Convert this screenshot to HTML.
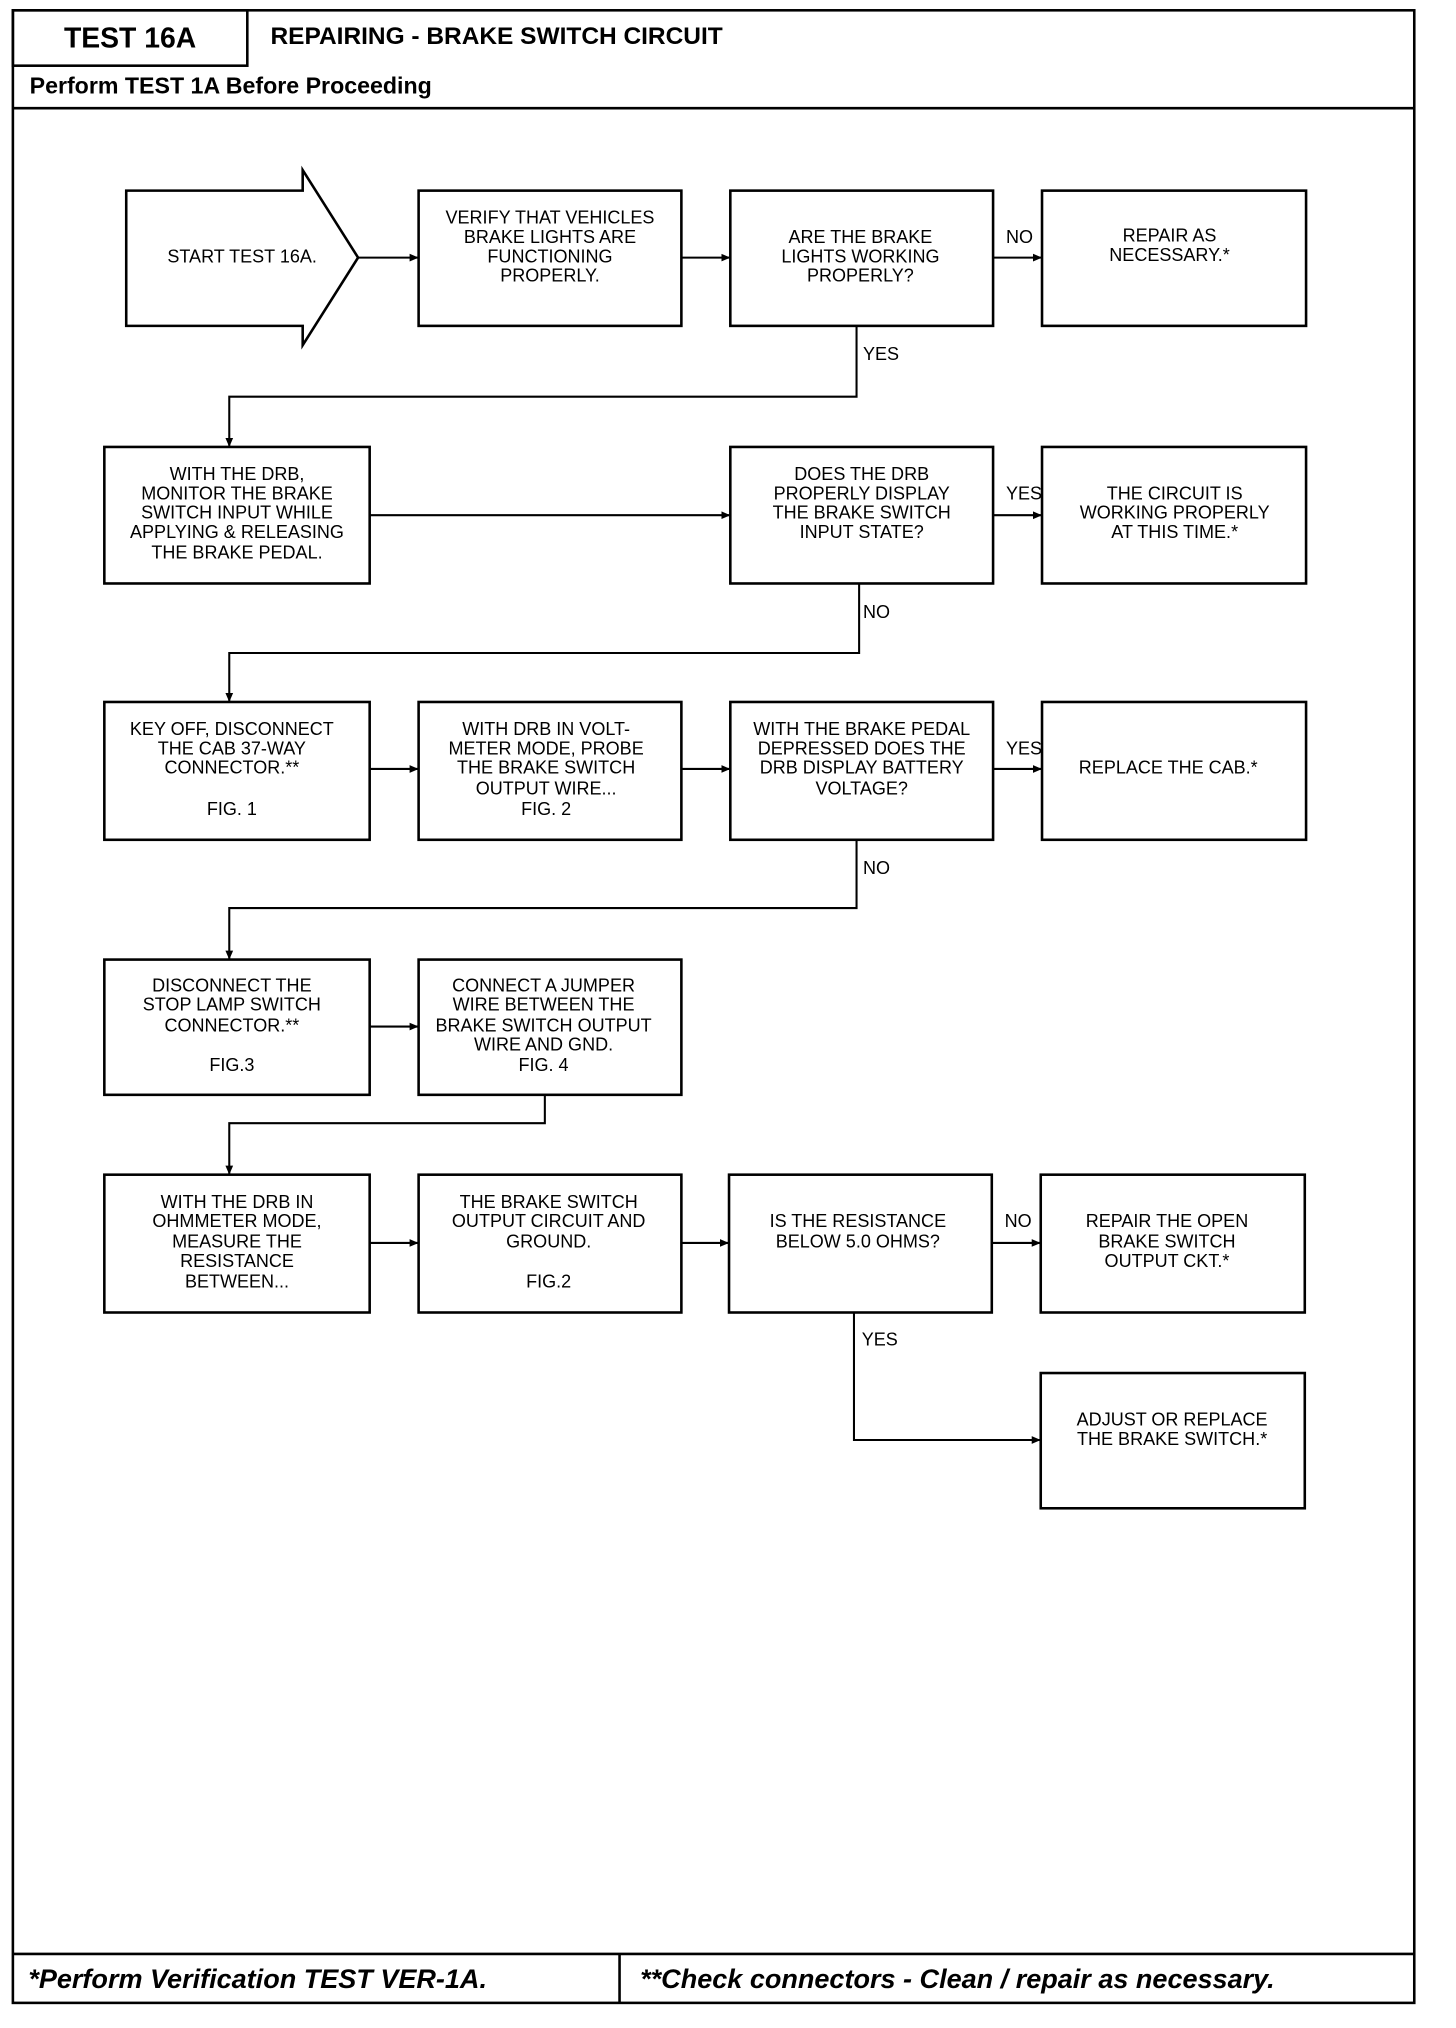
<!DOCTYPE html>
<html><head><meta charset="utf-8"><style>
html,body{margin:0;padding:0;background:#fff;}
svg{display:block;}
.t{font-family:"Liberation Sans Narrow","Liberation Sans",sans-serif;font-size:14px;fill:#000;text-anchor:middle;dominant-baseline:middle;}
.l{text-anchor:start;}
.b{fill:none;stroke:#000;stroke-width:2;}
.c{fill:none;stroke:#000;stroke-width:1.6;}
.h{font-family:"Liberation Sans",sans-serif;font-weight:bold;fill:#000;dominant-baseline:middle;}
</style></head><body>
<svg width="1456" height="2028" viewBox="0 0 1130.4 1574.5" preserveAspectRatio="none" xmlns="http://www.w3.org/2000/svg">
<defs><marker id="a" markerWidth="8" markerHeight="8" refX="7" refY="4" orient="auto" markerUnits="userSpaceOnUse"><path d="M0,1 L7,4 L0,7 Z" fill="#000"/></marker></defs>
<!-- frame -->
<rect x="10" y="8" width="1088" height="1547" class="b"/>
<rect x="10" y="8" width="182" height="43" class="b"/>
<line x1="10" y1="51" x2="1098" y2="51" stroke="#000" stroke-width="1" opacity="0"/>
<line x1="10" y1="84" x2="1098" y2="84" class="b"/>
<line x1="10" y1="1517" x2="1098" y2="1517" class="b"/>
<line x1="481" y1="1517" x2="481" y2="1555" class="b"/>
<text class="h" x="101" y="31" font-size="22" text-anchor="middle">TEST 16A</text>
<text class="h" x="210" y="29" font-size="19">REPAIRING - BRAKE SWITCH CIRCUIT</text>
<text class="h" x="23" y="68" font-size="18">Perform TEST 1A Before Proceeding</text>
<text class="h" x="22" y="1538" font-size="21" font-style="italic">*Perform Verification TEST VER-1A.</text>
<text class="h" x="497" y="1538" font-size="21" font-style="italic">**Check connectors - Clean / repair as necessary.</text>

<!-- row1 -->
<path d="M98,148 L235,148 L235,132 L278,200 L235,268 L235,253 L98,253 Z" class="b"/>
<rect x="325" y="148" width="204" height="105" class="b"/>
<rect x="567" y="148" width="204" height="105" class="b"/>
<rect x="809" y="148" width="205" height="105" class="b"/>
<line x1="278" y1="200" x2="325" y2="200" class="c" marker-end="url(#a)"/>
<line x1="529" y1="200" x2="567" y2="200" class="c" marker-end="url(#a)"/>
<line x1="771" y1="200" x2="809" y2="200" class="c" marker-end="url(#a)"/>
<polyline points="665,253 665,308 178,308 178,347" class="c" marker-end="url(#a)"/>
<text class="t" x="188" y="200">START TEST 16A.</text>
<text class="t" x="427" y="170">VERIFY THAT VEHICLES</text>
<text class="t" x="427" y="185">BRAKE LIGHTS ARE</text>
<text class="t" x="427" y="200">FUNCTIONING</text>
<text class="t" x="427" y="215">PROPERLY.</text>
<text class="t" x="668" y="185">ARE THE BRAKE</text>
<text class="t" x="668" y="200">LIGHTS WORKING</text>
<text class="t" x="668" y="215">PROPERLY?</text>
<text class="t l" x="781" y="185">NO</text>
<text class="t" x="908" y="184">REPAIR AS</text>
<text class="t" x="908" y="199">NECESSARY.*</text>
<text class="t l" x="670" y="276">YES</text>

<!-- row2 -->
<rect x="81" y="347" width="206" height="106" class="b"/>
<rect x="567" y="347" width="204" height="106" class="b"/>
<rect x="809" y="347" width="205" height="106" class="b"/>
<line x1="287" y1="400" x2="567" y2="400" class="c" marker-end="url(#a)"/>
<line x1="771" y1="400" x2="809" y2="400" class="c" marker-end="url(#a)"/>
<polyline points="667,453 667,507 178,507 178,545" class="c" marker-end="url(#a)"/>
<text class="t" x="184" y="369">WITH THE DRB,</text>
<text class="t" x="184" y="384">MONITOR THE BRAKE</text>
<text class="t" x="184" y="399">SWITCH INPUT WHILE</text>
<text class="t" x="184" y="414">APPLYING &amp; RELEASING</text>
<text class="t" x="184" y="430">THE BRAKE PEDAL.</text>
<text class="t" x="669" y="369">DOES THE DRB</text>
<text class="t" x="669" y="384">PROPERLY DISPLAY</text>
<text class="t" x="669" y="399">THE BRAKE SWITCH</text>
<text class="t" x="669" y="414">INPUT STATE?</text>
<text class="t l" x="781" y="384">YES</text>
<text class="t" x="912" y="384">THE CIRCUIT IS</text>
<text class="t" x="912" y="399">WORKING PROPERLY</text>
<text class="t" x="912" y="414">AT THIS TIME.*</text>
<text class="t l" x="670" y="476">NO</text>

<!-- row3 -->
<rect x="81" y="545" width="206" height="107" class="b"/>
<rect x="325" y="545" width="204" height="107" class="b"/>
<rect x="567" y="545" width="204" height="107" class="b"/>
<rect x="809" y="545" width="205" height="107" class="b"/>
<line x1="287" y1="597" x2="325" y2="597" class="c" marker-end="url(#a)"/>
<line x1="529" y1="597" x2="567" y2="597" class="c" marker-end="url(#a)"/>
<line x1="771" y1="597" x2="809" y2="597" class="c" marker-end="url(#a)"/>
<polyline points="665,652 665,705 178,705 178,745" class="c" marker-end="url(#a)"/>
<text class="t" x="180" y="567">KEY OFF, DISCONNECT</text>
<text class="t" x="180" y="582">THE CAB 37-WAY</text>
<text class="t" x="180" y="597">CONNECTOR.**</text>
<text class="t" x="180" y="629">FIG. 1</text>
<text class="t" x="424" y="567">WITH DRB IN VOLT-</text>
<text class="t" x="424" y="582">METER MODE, PROBE</text>
<text class="t" x="424" y="597">THE BRAKE SWITCH</text>
<text class="t" x="424" y="613">OUTPUT WIRE...</text>
<text class="t" x="424" y="629">FIG. 2</text>
<text class="t" x="669" y="567">WITH THE BRAKE PEDAL</text>
<text class="t" x="669" y="582">DEPRESSED DOES THE</text>
<text class="t" x="669" y="597">DRB DISPLAY BATTERY</text>
<text class="t" x="669" y="613">VOLTAGE?</text>
<text class="t l" x="781" y="582">YES</text>
<text class="t" x="907" y="597">REPLACE THE CAB.*</text>
<text class="t l" x="670" y="675">NO</text>

<!-- row4 -->
<rect x="81" y="745" width="206" height="105" class="b"/>
<rect x="325" y="745" width="204" height="105" class="b"/>
<line x1="287" y1="797" x2="325" y2="797" class="c" marker-end="url(#a)"/>
<polyline points="423,850 423,872 178,872 178,912" class="c" marker-end="url(#a)"/>
<text class="t" x="180" y="766">DISCONNECT THE</text>
<text class="t" x="180" y="781">STOP LAMP SWITCH</text>
<text class="t" x="180" y="797">CONNECTOR.**</text>
<text class="t" x="180" y="828">FIG.3</text>
<text class="t" x="422" y="766">CONNECT A JUMPER</text>
<text class="t" x="422" y="781">WIRE BETWEEN THE</text>
<text class="t" x="422" y="797">BRAKE SWITCH OUTPUT</text>
<text class="t" x="422" y="812">WIRE AND GND.</text>
<text class="t" x="422" y="828">FIG. 4</text>

<!-- row5 -->
<rect x="81" y="912" width="206" height="107" class="b"/>
<rect x="325" y="912" width="204" height="107" class="b"/>
<rect x="566" y="912" width="204" height="107" class="b"/>
<rect x="808" y="912" width="205" height="107" class="b"/>
<rect x="808" y="1066" width="205" height="105" class="b"/>
<line x1="287" y1="965" x2="325" y2="965" class="c" marker-end="url(#a)"/>
<line x1="529" y1="965" x2="566" y2="965" class="c" marker-end="url(#a)"/>
<line x1="770" y1="965" x2="808" y2="965" class="c" marker-end="url(#a)"/>
<polyline points="663,1019 663,1118 808,1118" class="c" marker-end="url(#a)"/>
<text class="t" x="184" y="934">WITH THE DRB IN</text>
<text class="t" x="184" y="949">OHMMETER MODE,</text>
<text class="t" x="184" y="965">MEASURE THE</text>
<text class="t" x="184" y="980">RESISTANCE</text>
<text class="t" x="184" y="996">BETWEEN...</text>
<text class="t" x="426" y="934">THE BRAKE SWITCH</text>
<text class="t" x="426" y="949">OUTPUT CIRCUIT AND</text>
<text class="t" x="426" y="965">GROUND.</text>
<text class="t" x="426" y="996">FIG.2</text>
<text class="t" x="666" y="949">IS THE RESISTANCE</text>
<text class="t" x="666" y="965">BELOW 5.0 OHMS?</text>
<text class="t l" x="780" y="949">NO</text>
<text class="t" x="906" y="949">REPAIR THE OPEN</text>
<text class="t" x="906" y="965">BRAKE SWITCH</text>
<text class="t" x="906" y="980">OUTPUT CKT.*</text>
<text class="t l" x="669" y="1041">YES</text>
<text class="t" x="910" y="1103">ADJUST OR REPLACE</text>
<text class="t" x="910" y="1118">THE BRAKE SWITCH.*</text>
</svg>
</body></html>
